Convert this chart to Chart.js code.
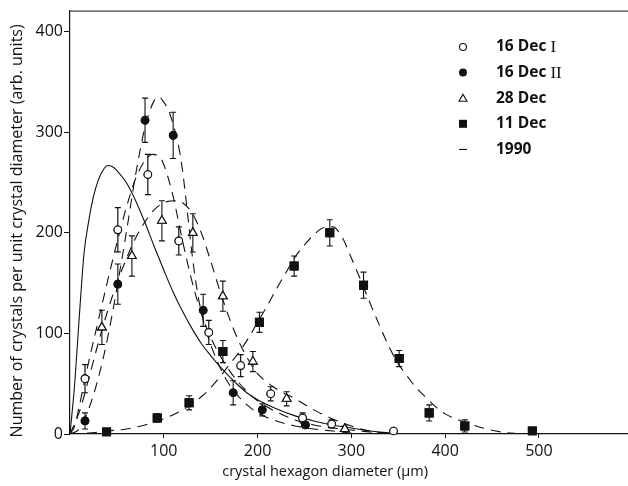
<!DOCTYPE html>
<html>
<head>
<meta charset="utf-8">
<script src="https://cdn.jsdelivr.net/npm/chart.js@4.4.1/dist/chart.umd.min.js"></script>
<style>
  html, body { margin: 0; padding: 0; background: #fff; }
  #wrap { width: 628px; height: 486px; }
</style>
</head>
<body>
<div id="wrap"><canvas id="crystals" width="628" height="486"></canvas></div>
<script>
// crystal size distributions
const diam16I = [16, 51, 83, 116, 148, 182, 214, 248, 279, 345];
const val16I  = [55, 203, 258, 192, 101, 68, 40, 16, 10, 3];
const err16I  = [14, 22, 20, 14, 12, 11, 7, 5, 4, 1];

const diam16II = [16, 51, 80, 110, 142, 174, 205, 251];
const val16II  = [13, 149, 312, 297, 123, 41, 24, 9];
const err16II  = [8, 20, 22, 23, 16, 12, 6, 3];

const diam28 = [34, 66, 98, 131, 163, 195, 231, 293];
const val28  = [106, 177, 212, 200, 137, 72, 35, 5];
const err28  = [17, 20, 20, 19, 15, 10, 7, 3];

const diam11 = [39, 93, 127, 163, 202, 239, 277, 313, 351, 383, 421, 493];
const val11  = [2, 16, 31, 82, 111, 167, 200, 148, 75, 21, 8, 3];
const err11  = [0, 4, 7, 11, 10, 10, 13, 13, 8, 8, 6, 0];

// fitted curves (dashed) and the 1990 curve (solid)
const fit16IX = [0, 5, 10, 16, 20, 30, 40, 50, 60, 70, 80, 88, 95, 100, 110, 120, 130, 140, 150, 160, 170, 180, 190, 200, 210, 220, 240, 260, 280, 300, 320, 345];
const fit16IY = [0, 8, 28, 55, 72, 112, 152, 190, 225, 254, 272, 278, 276, 268, 236, 192, 152, 120, 96, 78, 63, 51, 41, 33, 27, 22, 14, 9, 6, 4, 2, 1];

const fit16IIX = [0, 10, 20, 30, 40, 50, 60, 70, 80, 90, 95, 100, 105, 110, 115, 120, 125, 130, 135, 140, 145, 150, 160, 170, 180, 190, 200, 220, 240, 260, 280, 300];
const fit16IIY = [0, 5, 25, 55, 95, 145, 200, 258, 305, 332, 335, 330, 322, 308, 290, 262, 222, 180, 146, 121, 103, 89, 66, 49, 37, 28, 21, 13, 8, 5, 3, 1];

const fit28X = [0, 10, 20, 30, 40, 50, 60, 70, 80, 90, 100, 113, 120, 130, 140, 150, 160, 170, 180, 190, 200, 220, 240, 260, 280, 300, 320, 340];
const fit28Y = [0, 22, 55, 90, 122, 150, 174, 195, 211, 223, 230, 232, 230, 220, 200, 172, 142, 115, 92, 74, 60, 45, 35, 24, 15, 8, 3, 1];

const fit11X = [0, 20, 40, 60, 80, 100, 120, 140, 150, 160, 170, 180, 190, 200, 210, 220, 230, 240, 250, 260, 270, 280, 290, 300, 310, 320, 330, 340, 350, 360, 370, 380, 390, 400, 420, 440, 460, 480];
const fit11Y = [0, 1, 3, 5, 9, 15, 24, 37, 46, 57, 69, 81, 95, 111, 127, 144, 160, 176, 188, 198, 205, 206, 196, 175, 153, 130, 108, 87, 70, 57, 45, 36, 27, 20, 12, 6, 2, 0];

const curve1990X = [0, 5, 10, 15, 20, 25, 30, 35, 40, 45, 50, 60, 70, 80, 90, 100, 110, 120, 130, 140, 150, 160, 170, 180, 190, 200, 220, 240, 260, 280, 300, 320, 340];
const curve1990Y = [0, 50, 118, 180, 212, 236, 252, 262, 267, 266, 262, 250, 232, 210, 186, 163, 141, 122, 105, 90, 78, 67, 57, 48, 40, 34, 25, 18, 13, 9, 6, 3, 1];

const xTicks = [100, 200, 300, 400, 500];
const yTicks = [0, 100, 200, 300, 400];
const legendLabels = ['16 Dec I', '16 Dec II', '28 Dec', '11 Dec', '1990'];
const xTitle = 'crystal hexagon diameter (µm)';
const yTitle = 'Number of crystals per unit crystal diameter (arb. units)';

const xy = (xs, ys) => xs.map((x, i) => ({ x, y: ys[i] }));

const FONT = '"Open Sans", Lato, sans-serif';
const INK = '#111';

// error bars, then the markers again on top of them
const errorBars = {
  id: 'errorBars',
  afterDatasetsDraw(chart) {
    const { ctx, scales: { y } } = chart;
    ctx.save();
    ctx.strokeStyle = INK;
    ctx.lineWidth = 1.2;
    chart.data.datasets.forEach((ds, di) => {
      if (!ds.errors) return;
      const meta = chart.getDatasetMeta(di);
      meta.data.forEach((pt, i) => {
        const e = ds.errors[i];
        if (!e) return;
        const v = ds.data[i].y;
        const top = y.getPixelForValue(v + e);
        const bot = y.getPixelForValue(v - e);
        ctx.beginPath();
        ctx.moveTo(pt.x, top); ctx.lineTo(pt.x, bot);
        ctx.moveTo(pt.x - 3, top); ctx.lineTo(pt.x + 3, top);
        ctx.moveTo(pt.x - 3, bot); ctx.lineTo(pt.x + 3, bot);
        ctx.stroke();
      });
      meta.controller.draw();
    });
    ctx.restore();
  }
};

// top frame line, axis titles (centred like the original, not on the canvas) and legend
const frameAndLegend = {
  id: 'frameAndLegend',
  afterDraw(chart) {
    const { ctx, chartArea: a, scales: { x, y } } = chart;
    ctx.save();
    ctx.strokeStyle = INK;
    ctx.lineWidth = 1;
    ctx.beginPath();
    ctx.moveTo(a.left, a.top + 0.5);
    ctx.lineTo(a.right, a.top + 0.5);
    ctx.stroke();

    ctx.fillStyle = INK;
    ctx.textAlign = 'center';
    ctx.textBaseline = 'middle';
    ctx.font = '14.5px ' + FONT;
    ctx.fillText(xTitle, x.getPixelForValue(272), a.bottom + 38);
    ctx.save();
    ctx.translate(17, y.getPixelForValue(202));
    ctx.rotate(-Math.PI / 2);
    ctx.font = '16px ' + FONT;
    ctx.fillText(yTitle, 0, 0);
    ctx.restore();
    ctx.textAlign = 'left';

    const mx = 463, tx = 496, y0 = 47, dy = 25.6;
    legendLabels.forEach((lab, i) => {
      const ly = y0 + i * dy;
      ctx.lineWidth = 1.1;
      ctx.strokeStyle = INK;
      ctx.fillStyle = INK;
      ctx.beginPath();
      if (i === 0) {
        ctx.arc(mx, ly, 3.5, 0, Math.PI * 2);
        ctx.fillStyle = '#fff'; ctx.fill(); ctx.stroke();
      } else if (i === 1) {
        ctx.arc(mx, ly, 4, 0, Math.PI * 2);
        ctx.fill();
      } else if (i === 2) {
        ctx.moveTo(mx, ly - 4); ctx.lineTo(mx + 4, ly + 3); ctx.lineTo(mx - 4, ly + 3); ctx.closePath();
        ctx.fillStyle = '#fff'; ctx.fill(); ctx.stroke();
      } else if (i === 3) {
        ctx.fillRect(mx - 4, ly - 4, 8, 8);
      } else {
        ctx.moveTo(mx - 4, ly); ctx.lineTo(mx + 4, ly); ctx.stroke();
      }
      // roman numerals are set in a serif face in the original
      const m = lab.match(/^(.*\s)(I+)$/);
      const main = m ? m[1] : lab;
      ctx.fillStyle = INK;
      ctx.font = 'bold 15.5px ' + FONT;
      ctx.fillText(main, tx, ly);
      if (m) {
        const w = ctx.measureText(main).width;
        ctx.font = '17px "Liberation Serif", serif';
        ctx.fillText(m[2], tx + w, ly + 0.5);
      }
    });
    ctx.restore();
  }
};

const dashed = {
  type: 'line',
  borderColor: INK,
  borderWidth: 1.1,
  borderDash: [10, 7],
  pointRadius: 0,
  fill: false,
  cubicInterpolationMode: 'monotone'
};

const markers = (label, xs, ys, errs, style, filled, r) => ({
  type: 'scatter',
  label,
  data: xy(xs, ys),
  errors: errs,
  pointStyle: style,
  pointRadius: r,
  pointBorderWidth: 1.1,
  pointBorderColor: INK,
  pointBackgroundColor: filled ? INK : '#fff'
});

new Chart(document.getElementById('crystals'), {
  type: 'scatter',
  data: {
    datasets: [
      markers('16 Dec I', diam16I, val16I, err16I, 'circle', false, 3.8),
      markers('16 Dec II', diam16II, val16II, err16II, 'circle', true, 3.8),
      markers('28 Dec', diam28, val28, err28, 'triangle', false, 5),
      markers('11 Dec', diam11, val11, err11, 'rect', true, 5.6),
      { ...dashed, label: 'fit 16 Dec I', data: xy(fit16IX, fit16IY) },
      { ...dashed, label: 'fit 16 Dec II', data: xy(fit16IIX, fit16IIY) },
      { ...dashed, label: 'fit 28 Dec', data: xy(fit28X, fit28Y) },
      { ...dashed, label: 'fit 11 Dec', data: xy(fit11X, fit11Y) },
      { ...dashed, label: '1990', borderDash: [], data: xy(curve1990X, curve1990Y) }
    ]
  },
  options: {
    responsive: false,
    animation: false,
    devicePixelRatio: 1,
    layout: { autoPadding: false, padding: { top: 8, right: 0, left: 0, bottom: 0 } },
    plugins: { legend: { display: false }, tooltip: { enabled: false } },
    scales: {
      x: {
        type: 'linear', min: 0, max: 595,
        afterFit: (s) => { s.height = 52; },
        afterBuildTicks: (s) => { s.ticks = xTicks.map(v => ({ value: v })); },
        ticks: { font: { family: FONT, size: 16 }, color: INK, padding: 4, maxRotation: 0 },
        grid: { drawOnChartArea: false, drawTicks: true, tickLength: 4, color: INK },
        border: { color: INK, width: 1.2 },
        title: { display: false }
      },
      y: {
        type: 'linear', min: 0, max: 421,
        afterFit: (s) => { s.width = 70; },
        afterBuildTicks: (s) => { s.ticks = yTicks.map(v => ({ value: v })); },
        ticks: { font: { family: FONT, size: 16 }, color: INK, padding: 1 },
        grid: { drawOnChartArea: false, drawTicks: true, tickLength: 6, color: INK },
        border: { color: INK, width: 1.2 },
        title: { display: false }
      }
    }
  },
  plugins: [errorBars, frameAndLegend]
});
</script>
</body>
</html>
